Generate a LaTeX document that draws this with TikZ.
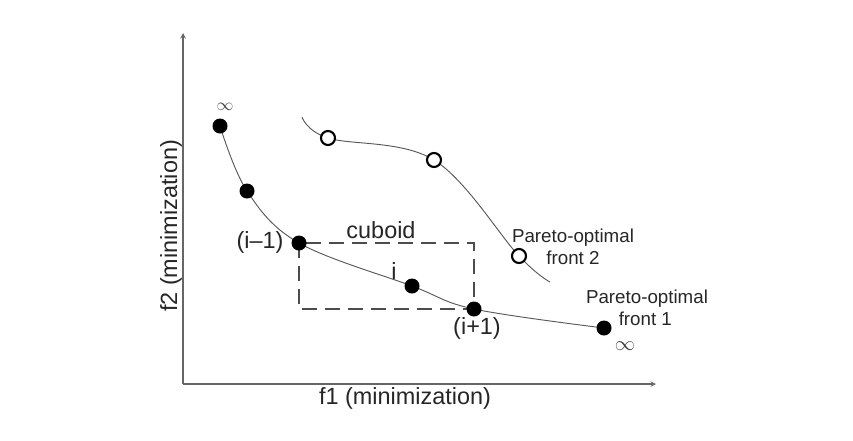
\documentclass[tikz,border=0pt]{standalone}
\usepackage{fontspec}
\setmainfont{Liberation Sans}
\usetikzlibrary{arrows,backgrounds,positioning}
\tikzset{filled/.style = {circle, fill = black, minimum size = 0.45cm, inner sep = 0pt},
	hollow/.style = {circle, draw = black, fill = white, line width = 1.8pt, minimum size = 0.42cm, inner sep = 0pt},
	lbl/.style = {text = black!85, font = \fontsize{20}{24}\selectfont, inner sep = 0pt},
	small/.style = {text = black!85, font = \fontsize{16}{19}\selectfont, inner sep = 0pt},
	inf/.style = {text = black!75, font = \fontsize{14}{16}\selectfont, inner sep = 0pt},
	front/.style = {draw = black!65, line width = 0.8pt},
	axis/.style = {->, >=stealth, draw = black!60, line width = 1.1pt},
	cuboidbox/.style = {draw = black!70, line width = 2.1pt, dash pattern = on 0.45cm off 0.24cm}}

\begin{document}
\begin{tikzpicture}[x = 0.03cm, y = -0.03cm]

 \useasboundingbox (0,0) rectangle (853,440);

 % axes
 \coordinate (origin) at (183,384);
 \coordinate (xtip) at (656,384);
 \coordinate (ytip) at (183,33);
 \draw [axis] (origin) -- (xtip);
 \draw [axis] (origin) -- (ytip);
 \node (xlabel) at (405,398) [lbl] {f1 (minimization)};
 \node (ylabel) at (171,226) [lbl, rotate = 90] {f2 (minimization)};

 % front 1
 \node (p1) at (220,126) [filled] {};
 \node (p2) at (247,191) [filled] {};
 \node (p3) at (299,243) [filled] {};
 \node (p4) at (412,286) [filled] {};
 \node (p5) at (474,309) [filled] {};
 \node (p6) at (604,328) [filled] {};

 % front 2
 \coordinate (f2start) at (302,117);
 \node (q1) at (328,138) [hollow] {};
 \node (q2) at (434,160) [hollow] {};
 \node (q3) at (519,256) [hollow] {};
 \coordinate (f2end) at (550,282);

 \begin{scope}[on background layer]
  \draw [front] plot [smooth, tension = 0.6] coordinates {(p1.center) (p2.center) (p3.center) (p4.center) (p5.center) (p6.center)};
  \draw [front] plot [smooth, tension = 0.6] coordinates {(f2start) (q1.center) (q2.center) (q3.center) (f2end)};
  \draw [cuboidbox] (p3.center) rectangle (p5.center);
 \end{scope}

 % labels
 \node (inftop) at (225,107) [inf] {$\infty$};
 \node (infend) at (625,346) [inf, font = \fontsize{16}{18}\selectfont] {$\infty$};
 \node (lprev) at (260,242) [lbl] {(i–1)};
 \node (lcur) at (394,271) [lbl] {i};
 \node (lnext) at (477,328) [lbl] {(i+1)};
 \node (cuboid) at (381,230) [lbl] {cuboid};
 \node (front2) at (573,247) [small, align = center] {Pareto-optimal\\front 2};
 \node (front1) at (647,308) [small, align = center] {Pareto-optimal\\\hspace*{-0.1cm}front 1};

\end{tikzpicture}
\end{document}
